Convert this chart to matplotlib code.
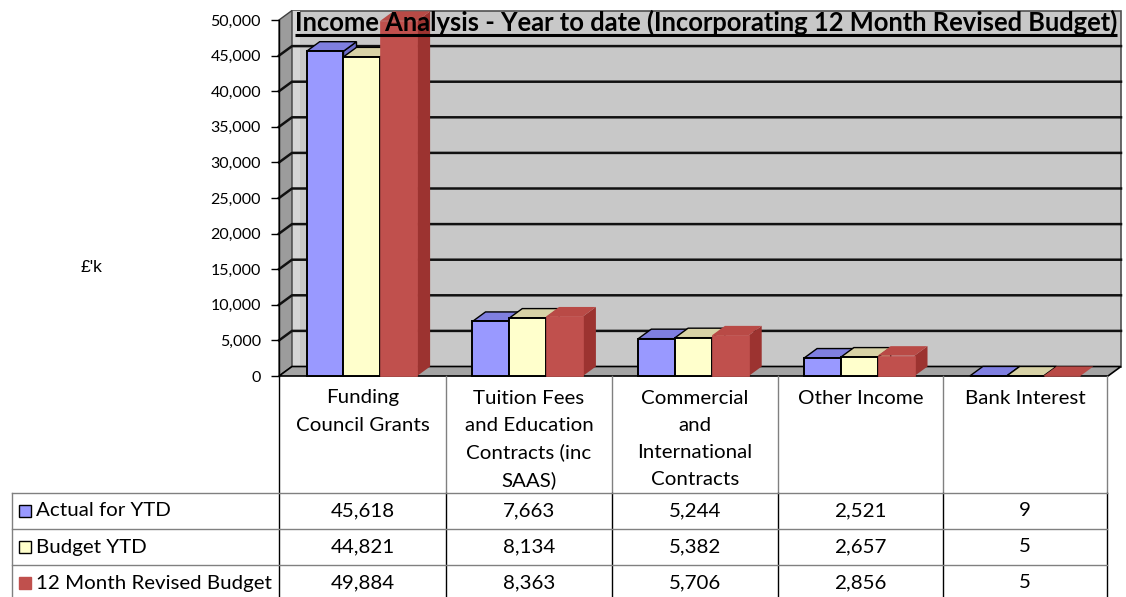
import matplotlib
matplotlib.use('Agg')
import matplotlib.pyplot as plt
from matplotlib.patches import Polygon, Rectangle
from matplotlib.ticker import FuncFormatter

# ---------------- data ----------------
categories = ["Funding\nCouncil Grants",
              "Tuition Fees\nand Education\nContracts (inc\nSAAS)",
              "Commercial\nand\nInternational\nContracts",
              "Other Income",
              "Bank Interest"]
series_names = ["Actual for YTD", "Budget YTD", "12 Month Revised Budget"]
actual = [45618, 7663, 5244, 2521, 9]
budget = [44821, 8134, 5382, 2657, 5]
revised = [49884, 8363, 5706, 2856, 5]
yticks = [0, 5000, 10000, 15000, 20000, 25000, 30000, 35000, 40000, 45000, 50000]
title = "Income Analysis - Year to date (Incorporating 12 Month Revised Budget)"
ylabel = "£'k"

# ---------------- styles ----------------
front_cols = ['#9999ff', '#ffffcc', '#c0504d']
top_cols = ['#7f7fe0', '#d8d2a6', '#b94a46']
side_cols = ['#6b6bc8', '#c8c196', '#9c3330']
edge_cols = ['black', 'black', '#c0504d']
TFONT = 'Lato'

W, H = 1126, 597
fig = plt.figure(figsize=(W / 100, H / 100), dpi=100)
r = fig.canvas.get_renderer()


def fx(px):
    return px / W


def fy(py):
    return 1 - py / H


def fit_size(text_obj, target_px, base):
    bb = text_obj.get_window_extent(renderer=r)
    return base * target_px / bb.width


x0p, x1p = 279, 1108
y0p, y1p = 376, 20
ax = fig.add_axes([fx(x0p), fy(y0p), fx(x1p) - fx(x0p), fy(y1p) - fy(y0p)])
ax.set_xlim(-0.5, 4.5)
ax.set_ylim(0, 50000)
ax.patch.set_visible(False)
for s in ['top', 'right', 'bottom']:
    ax.spines[s].set_visible(False)
ax.spines['left'].set_color('black')
ax.spines['left'].set_linewidth(1.0)
ax.set_xticks([])
ax.set_yticks(yticks)
ax.yaxis.set_major_formatter(FuncFormatter(lambda v, p: f"{int(v):,}"))
ax.tick_params(axis='y', length=6, width=1, pad=7, labelsize=11.5)
for lab in ax.get_yticklabels():
    lab.set_fontfamily(TFONT)

cat_px = (x1p - x0p) / 5.0
val_px = 50000.0 / (y0p - y1p)
DX = 13 / cat_px
DY = 9.5 * val_px
L, R, TOP = -0.5, 4.5, 50000

# back wall, side wall, floor
ax.add_patch(Polygon([(L + DX, DY), (R + DX, DY), (R + DX, TOP + DY), (L + DX, TOP + DY)],
                     closed=True, fc='#c8c8c8', ec='#505050', lw=1.2, clip_on=False, zorder=0))
ax.add_patch(Polygon([(L + DX, DY), (L + DX + 0.05, DY), (L + DX + 0.05, TOP + DY), (L + DX, TOP + DY)],
                     closed=True, fc='#d6d6d6', ec='none', clip_on=False, zorder=0.5))
ax.add_patch(Polygon([(L, 0), (L + DX, DY), (L + DX, TOP + DY), (L, TOP)],
                     closed=True, fc='#9c9c9c', ec='#404040', lw=1.0, clip_on=False, zorder=0.6))
ax.add_patch(Polygon([(L, 0), (R, 0), (R + DX, DY), (L + DX, DY)],
                     closed=True, fc='#a4a4a4', ec='black', lw=1.2, clip_on=False, zorder=0.7))
for v in yticks[1:-1]:
    ax.plot([L, L + DX, R + DX], [v, v + DY, v + DY], color='#111111', lw=1.8,
            clip_on=False, zorder=1)

# bars
w = 0.222
offs = [-w, 0.0, w]
for i, vals in enumerate([actual, budget, revised]):
    xs = [k + offs[i] for k in range(len(categories))]
    z = 3 + i * 3
    for x, h in zip(xs, vals):
        xl, xr = x - w / 2, x + w / 2
        ax.add_patch(Polygon([(xr, 0), (xr + DX, DY), (xr + DX, h + DY), (xr, h)], closed=True,
                             fc=side_cols[i], ec='none' if i == 2 else 'black', lw=1.0,
                             clip_on=False, zorder=z))
        ax.add_patch(Polygon([(xl, h), (xr, h), (xr + DX, h + DY), (xl + DX, h + DY)], closed=True,
                             fc=top_cols[i], ec='none' if i == 2 else 'black', lw=1.0,
                             clip_on=False, zorder=z + 1))
    ax.bar(xs, vals, width=w, color=front_cols[i], edgecolor=edge_cols[i],
           linewidth=1.4 if i < 2 else 0.5, zorder=z + 2, clip_on=False)

# ---------------- overlay (title, table, labels) ----------------
oax = fig.add_axes([0, 0, 1, 1], zorder=5)
oax.set_xlim(0, W)
oax.set_ylim(H, 0)
oax.axis('off')
oax.patch.set_visible(False)

# title fitted to width
tt = oax.text(706, 22, title, ha='center', va='center', fontsize=15, fontweight='bold',
              family=TFONT, color='black')
tt.set_fontsize(fit_size(tt, 827.0, 15))
bb = tt.get_window_extent(renderer=r)
oax.plot([bb.x0, bb.x1], [35, 35], color='black', lw=2.2, solid_capstyle='butt')

# y label
oax.text(91, 268, ylabel, ha='center', va='center', fontsize=12.5, family='Liberation Sans')

# body font size fitted from a reference string width
probe = oax.text(0, -100, "12 Month Revised Budget", fontsize=12, family=TFONT)
BODY = fit_size(probe, 235.0, 12)
probe.remove()

# table lines
col_edges = [279, 446, 612, 778, 943, 1107]
row_lines = [493, 529, 565]
grey = '#808080'
oax.plot([279, 279], [376, 597], color='black', lw=1.0)
for xe in col_edges[1:]:
    oax.plot([xe, xe], [376, 493], color=grey, lw=1.0)
    oax.plot([xe, xe], [493, 597], color='black', lw=1.0)
oax.plot([12, 12], [493, 597], color=grey, lw=1.0)
for yl in row_lines:
    oax.plot([12, 1107], [yl, yl], color=grey, lw=1.0)

# category labels
for k, cat in enumerate(categories):
    cx = (col_edges[k] + col_edges[k + 1]) / 2
    for j, line in enumerate(cat.split('\n')):
        oax.text(cx, 398 + 27.3 * j, line, ha='center', va='center', fontsize=BODY, family=TFONT)

# rows
row_centers = [511, 547, 583]
for i, (name, vals) in enumerate(zip(series_names, [actual, budget, revised])):
    yc = row_centers[i]
    oax.add_patch(Rectangle((19, yc - 6), 12, 12, fc=front_cols[i],
                            ec='black' if i < 2 else front_cols[i], lw=1.0))
    oax.text(36, yc, name, ha='left', va='center', fontsize=BODY, family=TFONT)
    for k, v in enumerate(vals):
        cx = (col_edges[k] + col_edges[k + 1]) / 2
        oax.text(cx, yc, f"{v:,}", ha='center', va='center', fontsize=BODY, family=TFONT)

fig.savefig('out.png', dpi=100)
